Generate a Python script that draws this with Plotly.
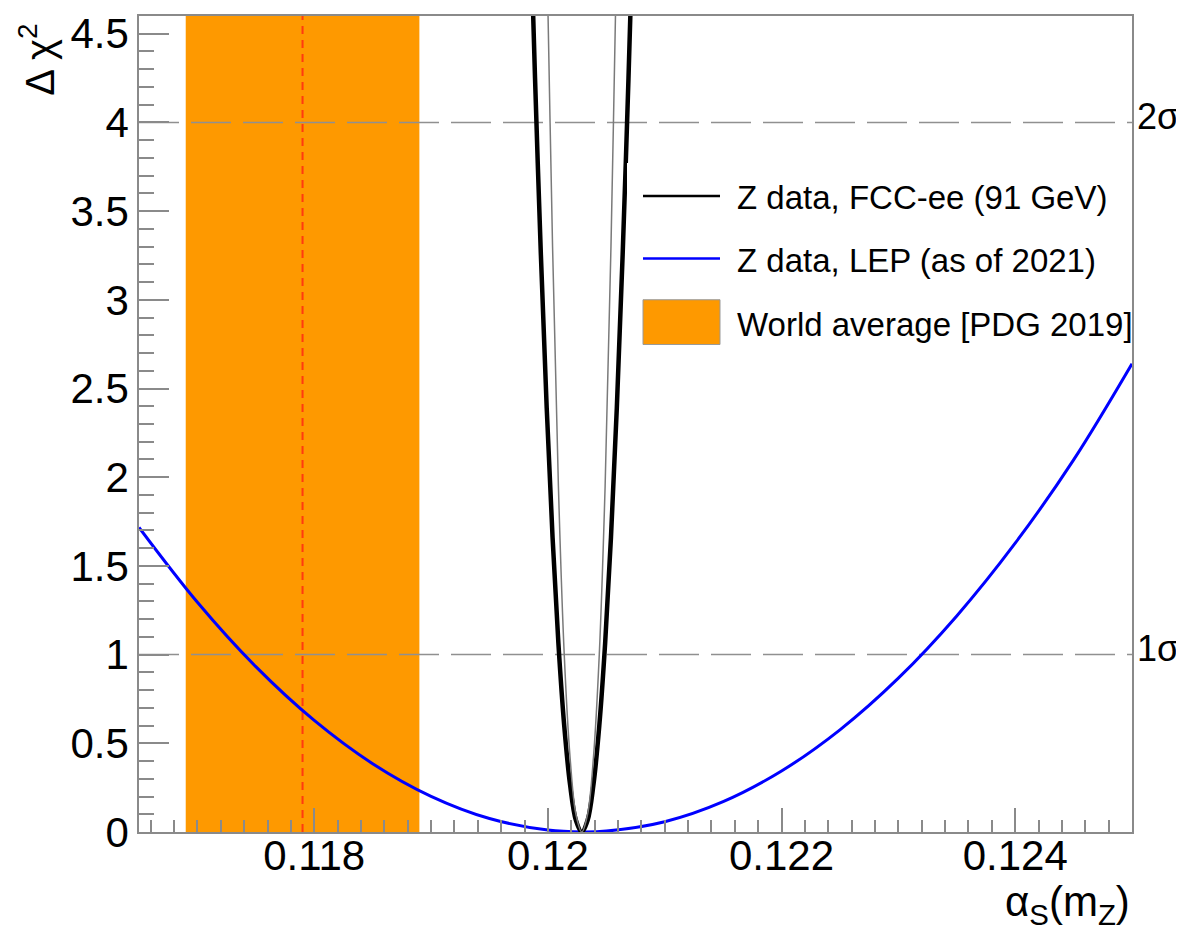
import plotly.graph_objects as go

# ---------------- data ----------------
x_range = [0.1165, 0.1250]
y_range = [0.0, 4.6]

x_tick_vals = [0.118, 0.120, 0.122, 0.124]
x_tick_text = ["0.118", "0.12", "0.122", "0.124"]
y_tick_vals = [0, 0.5, 1, 1.5, 2, 2.5, 3, 3.5, 4, 4.5]
y_tick_text = ["0", "0.5", "1", "1.5", "2", "2.5", "3", "3.5", "4", "4.5"]

# LEP (as of 2021) Delta chi^2 curve
lep_x = [0.1165, 0.1170, 0.1175, 0.1180, 0.1185, 0.1190, 0.1195, 0.1200, 0.1203,
         0.1205, 0.1210, 0.1215, 0.1220, 0.1225, 0.1230, 0.1235, 0.1240, 0.1245, 0.1250]
lep_y = [1.717, 1.295, 0.932, 0.629, 0.385, 0.201, 0.076, 0.011, 0.000,
         0.005, 0.058, 0.171, 0.344, 0.576, 0.867, 1.218, 1.628, 2.098, 2.640]

# FCC-ee (91 GeV) Delta chi^2 curve (thick)
fcc_x = [0.11985, 0.11989, 0.11994, 0.11999, 0.12004, 0.12009, 0.12014, 0.12019, 0.12024,
         0.12029,
         0.12034, 0.12039, 0.12044, 0.12049, 0.12054, 0.12059, 0.12064, 0.12069, 0.12073]
fcc_y = [5.14, 4.25, 3.255, 2.39, 1.661, 1.063, 0.598, 0.266, 0.066,
         0.0,
         0.066, 0.266, 0.598, 1.063, 1.661, 2.39, 3.255, 4.25, 5.14]

# FCC-ee inner (thin) curve
fcc_thin_x = [0.11997, 0.11999, 0.12004, 0.12009, 0.12014, 0.12019, 0.12024, 0.12029,
              0.12034, 0.12039, 0.12044, 0.12049, 0.12054, 0.12059, 0.12061]
fcc_thin_y = [5.6, 5.0, 3.3, 1.95, 1.0, 0.42, 0.10, 0.0,
              0.10, 0.42, 1.0, 1.95, 3.3, 5.0, 5.6]

# World average [PDG 2019]
pdg_center = 0.1179
pdg_err = 0.0010

sigma_levels = [1, 4]
sigma_labels = ["1σ", "2σ"]

legend_names = ["Z data, FCC-ee (91 GeV)", "Z data, LEP (as of 2021)", "World average [PDG 2019]"]

# ---------------- style ----------------
FONT = "Liberation Sans"
GRAY = "#8a8a8a"
ORANGE = "#fe9900"
# page body has an 8px margin: figure is drawn 8px right/down of the window origin
OFF = 8
W, H = 1184 - OFF, 939 - OFF
L, R, T, B = 139 - OFF, 52, 11 - OFF, 107
PW, PH = W - L - R, H - T - B
X0, Y0 = 139, 11  # plot-area origin in window pixels


def px(x):
    return (x - X0) / PW


def py(y):
    return 1 - (y - Y0) / PH


fig = go.Figure()

lo, hi = pdg_center - pdg_err, pdg_center + pdg_err
fig.add_trace(go.Scatter(x=[lo, lo, hi, hi, lo], y=[y_range[0], y_range[1], y_range[1], y_range[0], y_range[0]],
                         mode="lines", fill="toself", fillcolor=ORANGE, line=dict(width=0),
                         hoverinfo="skip", showlegend=False))

for lev in sigma_levels:
    fig.add_trace(go.Scatter(x=x_range, y=[lev, lev], mode="lines",
                             line=dict(color="#909090", width=1.5, dash="40px,12px"),
                             hoverinfo="skip", showlegend=False))

fig.add_trace(go.Scatter(x=[pdg_center, pdg_center], y=y_range, mode="lines",
                         line=dict(color="#ff3a10", width=2, dash="8px,6px"),
                         hoverinfo="skip", showlegend=False))

fig.add_trace(go.Scatter(x=lep_x, y=lep_y, mode="lines",
                         line=dict(color="#0000ff", width=3, shape="spline"),
                         showlegend=False))
fig.add_trace(go.Scatter(x=fcc_x, y=fcc_y, mode="lines",
                         line=dict(color="#000000", width=4.5, shape="spline"),
                         showlegend=False))
fig.add_trace(go.Scatter(x=fcc_thin_x, y=fcc_thin_y, mode="lines",
                         line=dict(color="#7a7a7a", width=1.5, shape="spline"),
                         showlegend=False))

axis_common = dict(showline=True, linecolor=GRAY, linewidth=1.5, mirror=True,
                   showgrid=False, zeroline=False, ticks="inside", tickcolor=GRAY, tickwidth=1.5,
                   ticklabeloverflow="allow",
                   tickfont=dict(family=FONT, size=42, color="black"))

fig.update_xaxes(range=x_range, tickmode="array", tickvals=x_tick_vals, ticktext=x_tick_text,
                 ticklen=24, ticklabelstandoff=-14,
                 minor=dict(tickmode="linear", tick0=0.118, dtick=0.0002, ticks="inside",
                            ticklen=12, tickcolor=GRAY, tickwidth=1.5, showgrid=False),
                 **axis_common)
fig.update_yaxes(range=y_range, tickmode="array", tickvals=y_tick_vals, ticktext=y_tick_text,
                 ticklen=30,
                 minor=dict(tickmode="linear", tick0=0, dtick=0.1, ticks="inside",
                            ticklen=15, tickcolor=GRAY, tickwidth=1.5, showgrid=False),
                 **axis_common)

annotations = []
# axis titles
annotations.append(dict(xref="paper", yref="paper", x=1, y=0, xanchor="right", yanchor="top",
                        yshift=-44, text="α<sub>S</sub>(m<sub>Z</sub>)", showarrow=False,
                        font=dict(family=FONT, size=42, color="black")))
annotations.append(dict(xref="paper", yref="paper", x=px(37), y=py(55), xanchor="center", yanchor="middle",
                        text="Δ χ<sup>2</sup>", textangle=-90, showarrow=False,
                        font=dict(family=FONT, size=40, color="black")))
# sigma labels
for lev, lab in zip(sigma_levels, sigma_labels):
    annotations.append(dict(xref="paper", yref="y", x=1, y=lev, xanchor="left", yanchor="middle",
                            xshift=3, yshift=6, text=lab, showarrow=False,
                            font=dict(family=FONT, size=36, color="black")))

# manual legend
shapes = []
shapes.append(dict(type="rect", xref="paper", yref="paper", x0=px(627), x1=px(1125), y0=py(352), y1=py(159),
                   fillcolor="white", line=dict(width=0), layer="above"))
leg_y = [192, 255, 319]
shapes.append(dict(type="line", xref="paper", yref="paper", x0=px(643), x1=px(720), y0=py(leg_y[0]), y1=py(leg_y[0]),
                   line=dict(color="black", width=2.5), layer="above"))
shapes.append(dict(type="line", xref="paper", yref="paper", x0=px(643), x1=px(720), y0=py(leg_y[1]), y1=py(leg_y[1]),
                   line=dict(color="#0000ff", width=2.5), layer="above"))
shapes.append(dict(type="rect", xref="paper", yref="paper", x0=px(643), x1=px(720), y0=py(341.5), y1=py(296.5),
                   fillcolor=ORANGE, line=dict(color="#999999", width=1), layer="above"))
for name, yy in zip(legend_names, leg_y):
    annotations.append(dict(xref="paper", yref="paper", x=px(735), y=py(yy + 2), xanchor="left", yanchor="middle",
                            text=name, showarrow=False, font=dict(family=FONT, size=33, color="black")))

fig.update_layout(width=W, height=H, margin=dict(l=L, r=R, t=T, b=B),
                  paper_bgcolor="white", plot_bgcolor="white",
                  annotations=annotations, shapes=shapes, showlegend=False)

fig.write_html("out.html")
